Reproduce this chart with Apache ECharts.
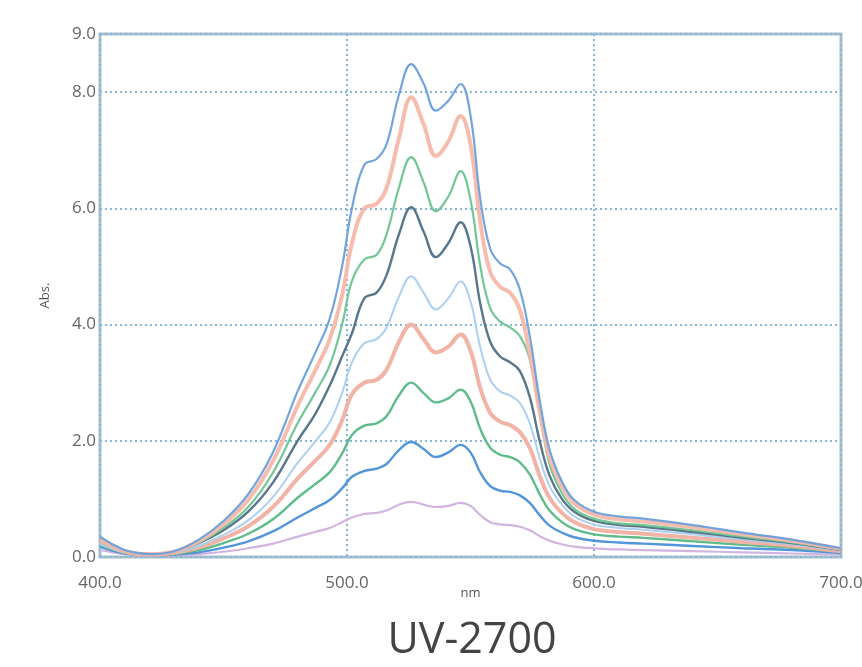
<!DOCTYPE html>
<html>
<head>
<meta charset="utf-8">
<script src="https://cdn.jsdelivr.net/npm/echarts@6/dist/echarts.min.js"></script>
<style>
html,body{margin:0;padding:0;background:#fff;}
#chart{width:862px;height:667px;}
</style>
</head>
<body>
<div id="chart"></div>
<script>
// Wavelengths (nm) at which every absorbance trace is sampled
var wavelengths = [400,405,410,415,420,430,440,450,460,470,480,487,493,498,502,507,512,516,521,526,531,536,541,546,550,554,558,562,566,570,574,578,582,587,592,600,610,620,640,660,680,700];

// Absorbance traces, highest concentration first
var trace1 = [0.35,0.22,0.12,0.07,0.05,0.10,0.30,0.62,1.08,1.80,2.85,3.50,4.10,5.00,6.00,6.75,6.85,7.10,7.95,8.48,8.15,7.68,7.85,8.14,7.60,6.15,5.30,5.05,4.95,4.60,3.80,2.70,1.85,1.30,0.98,0.78,0.70,0.66,0.55,0.42,0.30,0.15];
var trace2 = [0.30,0.18,0.10,0.06,0.05,0.09,0.27,0.56,0.98,1.65,2.60,3.20,3.75,4.50,5.40,6.00,6.08,6.35,7.20,7.91,7.45,6.90,7.15,7.59,7.10,5.75,4.90,4.65,4.55,4.25,3.50,2.50,1.72,1.22,0.92,0.73,0.65,0.61,0.51,0.39,0.28,0.14];
var trace3 = [0.28,0.17,0.09,0.05,0.04,0.08,0.24,0.50,0.86,1.45,2.30,2.82,3.30,4.00,4.75,5.12,5.20,5.55,6.35,6.88,6.45,5.95,6.20,6.64,6.15,5.00,4.28,4.05,3.95,3.80,3.40,2.50,1.60,1.10,0.83,0.66,0.58,0.55,0.46,0.35,0.25,0.13];
var trace4 = [0.30,0.19,0.10,0.06,0.05,0.09,0.24,0.46,0.78,1.28,2.00,2.45,2.95,3.45,3.85,4.45,4.55,4.85,5.55,6.02,5.60,5.16,5.40,5.76,5.35,4.35,3.70,3.45,3.35,3.20,2.75,2.00,1.40,1.00,0.78,0.62,0.55,0.52,0.43,0.33,0.24,0.12];
var trace5 = [0.22,0.14,0.08,0.05,0.04,0.07,0.19,0.38,0.63,1.03,1.62,1.98,2.32,2.82,3.35,3.68,3.75,3.95,4.48,4.83,4.55,4.26,4.45,4.74,4.40,3.60,3.05,2.85,2.78,2.65,2.30,1.70,1.22,0.90,0.70,0.56,0.50,0.47,0.39,0.30,0.22,0.11];
var trace6 = [0.25,0.16,0.09,0.05,0.04,0.07,0.16,0.32,0.53,0.86,1.35,1.65,1.93,2.35,2.80,3.00,3.05,3.22,3.70,4.00,3.75,3.52,3.62,3.83,3.55,2.90,2.48,2.33,2.27,2.15,1.88,1.40,1.02,0.76,0.60,0.48,0.43,0.40,0.33,0.26,0.19,0.10];
var trace7 = [0.20,0.13,0.07,0.04,0.03,0.05,0.12,0.24,0.40,0.65,1.02,1.25,1.46,1.78,2.10,2.26,2.30,2.42,2.78,3.00,2.82,2.66,2.73,2.88,2.68,2.20,1.88,1.76,1.72,1.63,1.42,1.08,0.80,0.60,0.48,0.39,0.35,0.33,0.27,0.21,0.16,0.09];
var trace8 = [0.18,0.11,0.06,0.04,0.03,0.04,0.08,0.16,0.27,0.44,0.68,0.84,0.98,1.18,1.38,1.48,1.52,1.60,1.84,1.98,1.86,1.72,1.80,1.93,1.80,1.45,1.22,1.14,1.12,1.06,0.93,0.72,0.54,0.42,0.34,0.28,0.25,0.23,0.19,0.15,0.12,0.07];
var trace9 = [0.12,0.08,0.05,0.03,0.02,0.03,0.05,0.09,0.15,0.23,0.35,0.43,0.50,0.60,0.68,0.74,0.76,0.80,0.90,0.95,0.90,0.86,0.88,0.93,0.88,0.72,0.60,0.56,0.55,0.52,0.46,0.36,0.28,0.22,0.18,0.15,0.13,0.12,0.10,0.08,0.06,0.04];

// Axis tick values
var xTicks = [400, 500, 600, 700];
var yTicks = [0, 2, 4, 6, 8, 9];

var traces = [trace1, trace2, trace3, trace4, trace5, trace6, trace7, trace8, trace9];
var lineColors = ['#6a9fdb', '#f5b8aa', '#6cc490', '#4f6f86', '#a9cdf0', '#f0b0a2', '#55b884', '#4a8fd8', '#cfb0dd'];
var lineWidths = [2.2, 4, 2.2, 2.4, 2, 4, 2.4, 2.4, 2.2];

var series = traces.map(function (t, i) {
  return {
    type: 'line',
    data: wavelengths.map(function (w, j) { return [w, t[j]]; }),
    smooth: 0.4,
    showSymbol: false,
    lineStyle: { color: lineColors[i], width: lineWidths[i], opacity: 0.95 },
    z: 10 - i
  };
});

var labelFont = { fontFamily: 'Open Sans', fontSize: 17, color: '#666' };

var chart = echarts.init(document.getElementById('chart'));
chart.setOption({
  animation: false,
  backgroundColor: '#ffffff',
  grid: {
    left: 100, right: 21, top: 34, bottom: 110,
    outerBoundsMode: 'none', containLabel: false,
    show: true, borderColor: '#a9bfcc', borderWidth: 3, backgroundColor: 'transparent'
  },
  xAxis: {
    type: 'value',
    min: xTicks[0], max: xTicks[xTicks.length - 1], interval: 100,
    name: 'nm', nameLocation: 'middle', nameGap: 30, nameMoveOverlap: false,
    nameTextStyle: { fontFamily: 'Open Sans', fontSize: 13, color: '#555' },
    axisLine: { show: false },
    axisTick: { show: false },
    axisLabel: Object.assign({ margin: 18, formatter: function (v) { return v.toFixed(1); } }, labelFont),
    splitLine: { show: true, lineStyle: { color: '#86b6da', width: 2, type: [2, 3] } }
  },
  yAxis: {
    type: 'value',
    min: yTicks[0], max: yTicks[yTicks.length - 1], interval: 2,
    name: 'Abs.', nameLocation: 'middle', nameGap: 48, nameRotate: 90, nameMoveOverlap: false,
    nameTextStyle: { fontFamily: 'Open Sans', fontSize: 13, color: '#555' },
    axisLine: { show: false },
    axisTick: { show: false },
    axisLabel: Object.assign({ margin: 4, formatter: function (v) { return v.toFixed(1); } }, labelFont),
    splitLine: { show: true, lineStyle: { color: '#86b6da', width: 2, type: [2, 3] } }
  },
  graphic: [{
    type: 'text', x: 472, y: 641,
    style: { text: 'UV-2700', font: '43px "Open Sans"', fill: '#444', textAlign: 'center', textVerticalAlign: 'middle' }
  }],
  series: series
});
</script>
</body>
</html>
